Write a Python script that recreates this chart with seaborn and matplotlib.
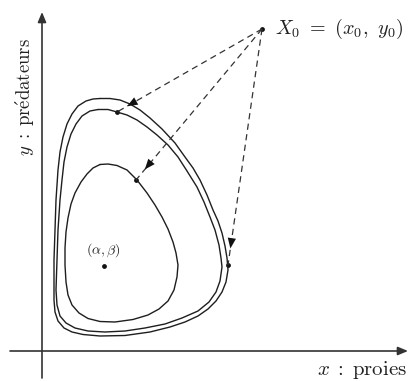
import numpy as np
import pandas as pd
import seaborn as sns
import matplotlib.pyplot as plt

# orbit points (origin = where the axes cross)
outer_x = [58, 68, 78, 88, 98, 108, 120, 133, 143, 151, 158, 165, 171, 176, 180, 183, 185,
           186, 184, 180, 174, 166, 156, 143, 128, 108, 83, 58, 41, 30, 22, 16, 13, 12, 12,
           12, 13, 14, 16, 18, 21, 25, 30, 36, 44, 51]
outer_y = [252.5, 252.5, 251, 247, 241, 233, 222, 208, 194, 183, 171, 156, 141, 130, 118, 105, 93,
           81, 69, 59, 50, 42, 35, 29, 24, 19, 15.5, 15, 16.5, 19, 23, 30, 39, 51, 71,
           91, 121, 151, 181, 199, 214, 227, 237, 245, 250, 252]

middle_x = [56, 66, 75, 85, 95, 105, 115, 126, 136, 145, 155, 162, 168, 173, 177, 179, 180,
            178, 174, 167, 156, 140, 123, 103, 83, 63, 46, 33, 24, 18, 15, 14, 15, 16, 18,
            20, 22, 25, 29, 34, 40, 48]
middle_y = [241.5, 241.5, 239, 236, 231, 224, 216, 206, 194, 180, 164, 149, 134, 121, 106, 93, 84,
            70, 59, 49, 40, 33, 27, 23, 20, 19, 20, 23, 28, 35, 46, 61, 91, 121, 151,
            171, 189, 204, 217, 227, 235, 240]

inner_x = [58, 66, 75, 85, 95, 105, 113, 120, 126, 131, 134, 136, 135, 132, 126, 117, 106,
           91, 73, 58, 46, 37, 30, 26, 24, 23, 23, 24, 26, 29, 33, 39, 45, 51]
inner_y = [186.5, 187, 185.5, 181, 171, 158, 146, 134, 122, 109, 98, 86, 74, 61, 50, 42, 36,
           31.5, 29, 29.5, 32.5, 38, 46, 56, 69, 86, 103, 119, 133, 147, 158, 169, 177, 183]

x0 = (220, 322)
targets_x = [75, 94, 186]
targets_y = [239, 171, 86]
equilibrium = (62, 85)

sns.set_theme(style='white')
plt.rcParams['mathtext.fontset'] = 'cm'
plt.rcParams['font.family'] = ['DejaVu Serif']

fig = plt.figure(figsize=(4.11, 3.81), dpi=100)
ax = fig.add_axes([0, 0, 1, 1])
ax.set_xlim(-42, 369)
ax.set_ylim(-30, 351)
ax.axis('off')

# closed orbits
frames = []
for name, xs, ys in [('outer', outer_x, outer_y), ('middle', middle_x, middle_y), ('inner', inner_x, inner_y)]:
    frames.append(pd.DataFrame({'x': xs + xs[:1], 'y': ys + ys[:1], 'orbit': name}))
orbits = pd.concat(frames, ignore_index=True)
sns.lineplot(data=orbits, x='x', y='y', units='orbit', estimator=None, sort=False,
             color='#1e1e1e', lw=1.0, ax=ax)

# axes with arrows
arrow = dict(arrowstyle='-|>,head_length=0.6,head_width=0.25', color='#333333', lw=1.2,
             shrinkA=0, shrinkB=0, mutation_scale=10)
ax.annotate('', xy=(366, 0), xytext=(-32, 0), arrowprops=arrow)
ax.annotate('', xy=(0, 339), xytext=(0, -27), arrowprops=arrow)

# dashed lines from X0 with arrowheads
for tx, ty in zip(targets_x, targets_y):
    ax.plot([x0[0], tx], [x0[1], ty], color='#333333', lw=0.9, ls=(0, (5, 3.5)))
    dx, dy = tx - x0[0], ty - x0[1]
    tip = (x0[0] + 0.93 * dx, x0[1] + 0.93 * dy)
    tail = (x0[0] + 0.86 * dx, x0[1] + 0.86 * dy)
    ax.annotate('', xy=tip, xytext=tail,
                arrowprops=dict(arrowstyle='-|>,head_length=0.75,head_width=0.3', color='#111111',
                                lw=0, shrinkA=0, shrinkB=0, mutation_scale=10))

pts = pd.DataFrame({'x': targets_x + [x0[0], equilibrium[0]],
                    'y': targets_y + [x0[1], equilibrium[1]]})
sns.scatterplot(data=pts, x='x', y='y', color='#111111', s=12, linewidth=0, ax=ax)

ax.text(x0[0] + 13, x0[1], r'$X_0\ =\ (x_0,\ y_0)$', fontsize=14.5, ha='left', va='center', color='#222222')
ax.text(equilibrium[0] - 1, equilibrium[1] + 16, r'$(\alpha, \beta)$', fontsize=10, ha='center',
        va='center', color='#222222')
ax.text(365, -19, r'$x\;:\;\mathrm{proies}$', fontsize=15, ha='right', va='center', color='#222222')
ax.text(-17, 254, r'$y\;:\;\mathrm{pr\acute{e}dateurs}$', fontsize=13.5, ha='center', va='center',
        rotation=90, color='#222222')

fig.savefig('out.png', dpi=100)
